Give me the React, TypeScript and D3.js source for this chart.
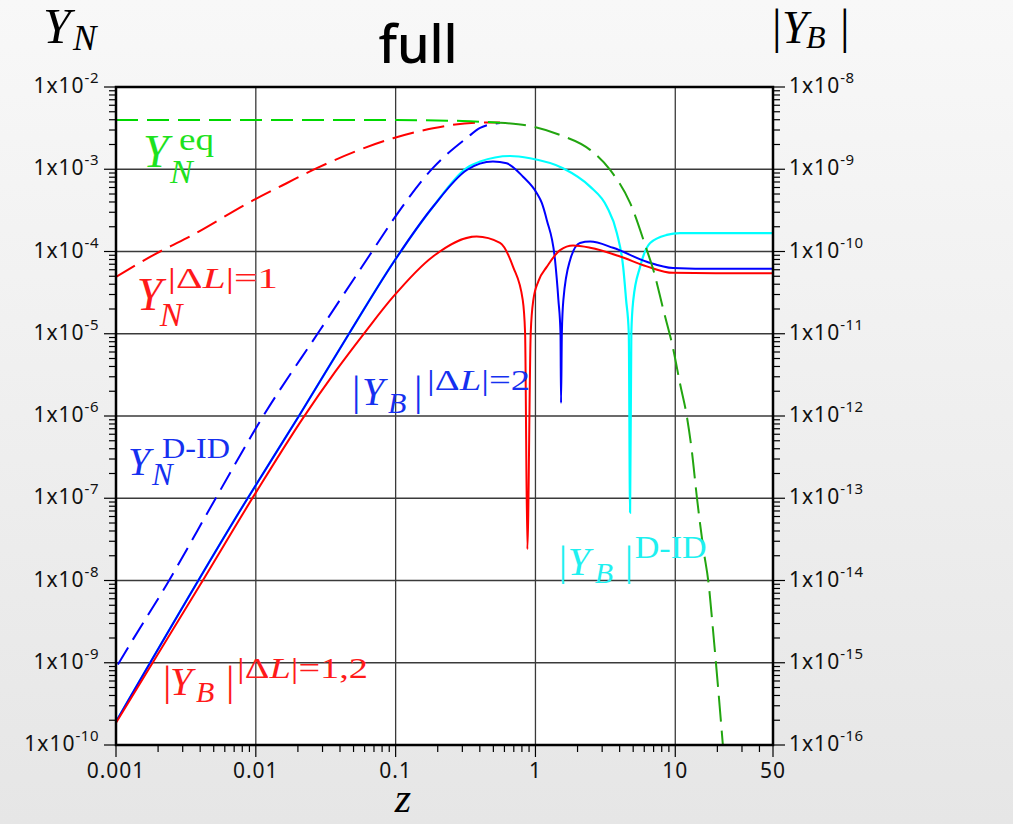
import React, { useRef, useEffect } from "react";
import * as d3 from "d3";

// values: [z, value]
// Y_N^eq (left axis)
const eqCurve: [number, number][] = [
  [0.001, 3.97e-3], [0.01, 3.97e-3], [0.1, 3.96e-3], [0.3, 3.86e-3], [0.558, 3.68e-3],
  [0.914, 3.36e-3], [1.5, 2.61e-3], [2.46, 1.72e-3], [3.42, 9.8e-4], [4.75, 3.9e-4],
  [6.25, 1.05e-4], [6.97, 5.97e-5], [8.22, 1.95e-5], [9.69, 6.4e-6], [10.8, 2.5e-6],
  [12.1, 9.9e-7], [13.1, 3.9e-7], [14.3, 1.0e-7], [15.9, 2.4e-8], [17.3, 9.3e-9],
  [18.7, 2.3e-9], [20.3, 4.7e-10], [21.9, 1.0e-10]
];

// Y_N^{|dL|=1} (left axis)
const ynDL1: [number, number][] = [
  [0.001, 4.9e-5], [0.00195, 9.5e-5], [0.0032, 1.45e-4], [0.0096, 4.2e-4], [0.0166, 6.76e-4],
  [0.0273, 1.03e-3], [0.0958, 2.38e-3], [0.185, 3.15e-3], [0.38, 3.68e-3], [0.558, 3.7e-3]
];

// Y_N^{D-ID} (left axis)
const ynDID: [number, number][] = [
  [0.00103, 9.5e-10], [0.00132, 1.91e-9], [0.0023, 8.9e-9], [0.00525, 1.05e-7], [0.01126, 9.9e-7],
  [0.0288, 1.11e-5], [0.0689, 1.04e-4], [0.0958, 2.42e-4], [0.185, 1.04e-3], [0.323, 2.4e-3],
  [0.402, 3.18e-3], [0.558, 3.65e-3]
];

// |Y_B|^{|dL|=1,2} (right axis)
const ybDL12: [number, number][] = [
  [0.001, 1.86e-16], [0.00399, 8.8e-15], [0.01, 1.17e-13], [0.0218, 9.5e-13], [0.0369, 3.44e-12],
  [0.0621, 1.11e-11], [0.0958, 2.8e-11], [0.185, 8.7e-11], [0.38, 1.52e-10], [0.558, 1.27e-10],
  [0.692, 6.5e-11], [0.811, 2.58e-11], [0.843, 1.03e-11], [0.875, 2.4e-14], [0.925, 1.03e-11],
  [0.966, 2.58e-11], [1.052, 4.4e-11], [1.205, 6.5e-11], [1.5, 1.04e-10], [1.86, 1.18e-10],
  [2.46, 1.11e-10], [4.03, 8.7e-11], [6.25, 6.6e-11], [9.64, 5.5e-11], [20, 5.45e-11], [50, 5.45e-11]
];

// |Y_B|^{|dL|=2} (right axis)
const ybDL2: [number, number][] = [
  [0.001, 1.92e-16], [0.00861, 9.6e-14], [0.0207, 1.05e-12], [0.0472, 1.05e-11], [0.0958, 7.26e-11],
  [0.185, 3.5e-10], [0.323, 9.8e-10], [0.497, 1.24e-9], [0.623, 1.18e-9], [0.815, 8.1e-10],
  [1.02, 5.15e-10], [1.11, 3.9e-10], [1.205, 2.42e-10], [1.38, 7.9e-11], [1.459, 2.58e-11],
  [1.51, 1.03e-11], [1.524, 1.44e-12], [1.545, 1.03e-11], [1.584, 2.58e-11], [1.77, 7.9e-11],
  [2.08, 1.27e-10], [2.46, 1.32e-10], [3.59, 1.11e-10], [6.25, 7.5e-11], [9.64, 6.3e-11],
  [20, 6.15e-11], [50, 6.15e-11]
];

// |Y_B|^{D-ID} (right axis)
const ybDID: [number, number][] = [
  [0.001, 1.92e-16], [0.00861, 9.6e-14], [0.0207, 1.05e-12], [0.0472, 1.05e-11], [0.0958, 7.26e-11],
  [0.185, 3.5e-10], [0.323, 1.04e-9], [0.402, 1.24e-9], [0.658, 1.45e-9], [0.914, 1.36e-9],
  [1.575, 1.03e-9], [2.46, 6.15e-10], [3.24, 3.5e-10], [3.82, 1.68e-10], [4.24, 6.5e-11],
  [4.45, 2.58e-11], [4.65, 1.03e-11], [4.75, 6.7e-14], [4.85, 1.03e-11], [5.01, 2.58e-11],
  [5.6, 6.5e-11], [6.61, 1.27e-10], [8.69, 1.59e-10], [10.8, 1.67e-10], [50, 1.67e-10]
];

const leftExps = [-2, -3, -4, -5, -6, -7, -8, -9, -10];
const rightExps = [-8, -9, -10, -11, -12, -13, -14, -15, -16];
const xTicks = [0.001, 0.01, 0.1, 1, 10, 50];
const xTickLabels = ["0.001", "0.01", "0.1", "1", "10", "50"];

const W = 1013, H = 824;
const SERIF = "'Liberation Serif', 'Times New Roman', serif";
const SANS = "'Noto Sans', 'Open Sans', sans-serif";

type Seg = { s: string; i?: boolean };
type Piece = { segs: Seg[]; dx: number; dy: number; size: number; w?: number };

const it = (s: string, dx: number, dy: number, size: number): Piece => ({ segs: [{ s, i: true }], dx, dy, size });
const up = (s: string, dx: number, dy: number, size: number, w?: number): Piece => ({ segs: [{ s }], dx, dy, size, w });
const dl = (n: string, dx: number, dy: number, size: number, w: number): Piece =>
  ({ segs: [{ s: "|Δ" }, { s: "L", i: true }, { s: "|=" + n }], dx, dy, size, w });

const mathLabel = (g: any, x0: number, y0: number, color: string, pieces: Piece[]) => {
  pieces.forEach(p => {
    const t = g.append("text")
      .attr("x", x0 + p.dx)
      .attr("y", y0 + p.dy)
      .attr("font-size", p.size)
      .attr("font-family", SERIF)
      .attr("fill", color);
    if (p.w) t.attr("textLength", p.w).attr("lengthAdjust", "spacingAndGlyphs");
    p.segs.forEach(sg => {
      t.append("tspan").attr("font-style", sg.i ? "italic" : "normal").text(sg.s);
    });
  });
};

const App = () => {
  const chart = useRef<SVGSVGElement>(null);

  useEffect(() => {
    const margin = { top: 87, right: 240, bottom: 79, left: 116 };
    const left = margin.left, right = W - margin.right, top = margin.top, bottom = H - margin.bottom;

    const svg = d3.select(chart.current);
    svg.selectAll("*").remove();

    const defs = svg.append("defs");
    const grad = defs.append("linearGradient").attr("id", "bg")
      .attr("x1", 0).attr("y1", 0).attr("x2", 0).attr("y2", 1);
    grad.append("stop").attr("offset", "0%").attr("stop-color", "#f8f8f8");
    grad.append("stop").attr("offset", "100%").attr("stop-color", "#e6e6e6");
    defs.append("clipPath").attr("id", "plotClip").append("rect")
      .attr("x", left).attr("y", top).attr("width", right - left).attr("height", bottom - top);

    svg.append("rect").attr("width", W).attr("height", H).attr("fill", "url(#bg)");
    svg.append("rect").attr("x", left).attr("y", top).attr("width", right - left).attr("height", bottom - top).attr("fill", "#fff");

    const x = d3.scaleLog().domain([0.001, 50]).range([left, right]);
    const yN = d3.scaleLog().domain([1e-10, 1e-2]).range([bottom, top]);
    const yB = d3.scaleLog().domain([1e-16, 1e-8]).range([bottom, top]);

    // grid
    const grid = svg.append("g").attr("stroke", "#3a3a3a").attr("stroke-width", 1.3);
    [0.01, 0.1, 1, 10].forEach(v => {
      grid.append("line").attr("x1", x(v)).attr("x2", x(v)).attr("y1", top).attr("y2", bottom);
    });
    leftExps.slice(1, -1).forEach(e => {
      grid.append("line").attr("x1", left).attr("x2", right).attr("y1", yN(10 ** e)).attr("y2", yN(10 ** e));
    });

    // ticks
    const ticks = svg.append("g").attr("stroke", "#000").attr("stroke-width", 1.2);
    leftExps.forEach(e => {
      const yy = yN(10 ** e);
      ticks.append("line").attr("x1", left - 12).attr("x2", left).attr("y1", yy).attr("y2", yy);
      ticks.append("line").attr("x1", right).attr("x2", right + 12).attr("y1", yy).attr("y2", yy);
      if (e > -10) {
        for (let k = 2; k <= 9; k++) {
          const ym = yN(k * 10 ** (e - 1));
          ticks.append("line").attr("x1", left - 7).attr("x2", left).attr("y1", ym).attr("y2", ym);
          ticks.append("line").attr("x1", right).attr("x2", right + 7).attr("y1", ym).attr("y2", ym);
        }
      }
    });
    [0.001, 0.01, 0.1, 1, 10].forEach(d => {
      for (let k = 2; k <= 9; k++) {
        const v = k * d;
        if (v >= 50) break;
        ticks.append("line").attr("x1", x(v)).attr("x2", x(v)).attr("y1", bottom).attr("y2", bottom + 7);
      }
    });
    xTicks.forEach(v => {
      ticks.append("line").attr("x1", x(v)).attr("x2", x(v)).attr("y1", bottom).attr("y2", bottom + 12);
    });

    // tick labels
    const tl = svg.append("g").attr("font-family", SANS).attr("fill", "#111");
    const expLabel = (xx: number, yy: number, e: number, anchor: string) => {
      const t = tl.append("text").attr("x", xx).attr("y", yy + 6).attr("text-anchor", anchor)
        .attr("font-size", 21).attr("letter-spacing", 1);
      t.append("tspan").text("1x10");
      t.append("tspan").attr("font-size", 15).attr("dy", -10).attr("letter-spacing", 0.5).text(String(e));
    };
    leftExps.forEach(e => expLabel(left - 17, yN(10 ** e), e, "end"));
    rightExps.forEach(e => expLabel(right + 16, yB(10 ** e), e, "start"));
    xTicks.forEach((v, i) => {
      tl.append("text").attr("x", x(v)).attr("y", bottom + 33).attr("text-anchor", "middle")
        .attr("font-size", 21).attr("letter-spacing", 1).text(xTickLabels[i]);
    });

    // curves
    const plot = svg.append("g").attr("clip-path", "url(#plotClip)").attr("fill", "none").attr("stroke-width", 2);
    const lineN = d3.line<[number, number]>().x(d => x(d[0])).y(d => yN(d[1])).curve(d3.curveMonotoneX);
    const lineB = d3.line<[number, number]>().x(d => x(d[0])).y(d => yB(d[1])).curve(d3.curveMonotoneX);

    plot.append("path").attr("d", lineB(ybDID)).attr("stroke", "#00ffff").attr("stroke-width", 2.2);
    plot.append("path").attr("d", lineB(ybDL2)).attr("stroke", "#0000ff");
    plot.append("path").attr("d", lineB(ybDL12)).attr("stroke", "#ff0000");

    plot.append("path").attr("d", lineN(ynDID)).attr("stroke", "#0000ff").attr("stroke-dasharray", "20 9");
    plot.append("path").attr("d", lineN(ynDL1)).attr("stroke", "#ff0000").attr("stroke-dasharray", "22 9");
    plot.append("path").attr("d", lineN(eqCurve.filter(d => d[0] <= 0.56))).attr("stroke", "#00d800").attr("stroke-dasharray", "22 9");
    plot.append("path").attr("d", lineN(eqCurve.filter(d => d[0] >= 0.55))).attr("stroke", "#22a510").attr("stroke-dasharray", "26 9");

    // frame
    svg.append("rect").attr("x", left).attr("y", top).attr("width", right - left).attr("height", bottom - top)
      .attr("fill", "none").attr("stroke", "#000").attr("stroke-width", 2.5);

    // curve labels
    const lab = svg.append("g");
    mathLabel(lab, x(0.00156), yN(1.07e-3), "#1ee21e", [
      it("Y", 0, 0, 46), it("N", 27, 16, 34), up("eq", 36, -17, 31, 35)
    ]);
    mathLabel(lab, x(0.00141), yN(1.95e-5), "#ff1a1a", [
      it("Y", 0, 0, 46), it("N", 23, 16, 34), dl("1", 31, -22, 30, 110)
    ]);
    mathLabel(lab, x(0.0513), yN(1.37e-6), "#1530f0", [
      up("|", -3, 0, 42), it("Y", 7, 0, 40), it("B", 33, 8, 30), up("|", 59, 0, 42),
      dl("2", 72, -15, 29, 103)
    ]);
    mathLabel(lab, x(0.00122), yN(1.93e-7), "#1530f0", [
      it("Y", 0, 0, 40), it("N", 24, 10, 31), up("D-ID", 34, -17, 29, 68)
    ]);
    mathLabel(lab, x(1.54), yN(1.18e-8), "#1ff0f0", [
      up("|", -3, 0, 42), it("Y", 6, 0, 40), it("B", 33, 8, 30), up("|", 63, 0, 42),
      up("D-ID", 73, -17, 31, 72)
    ]);
    mathLabel(lab, x(0.00228), yN(4.09e-10), "#ff1a1a", [
      up("|", -3, 0, 42), it("Y", 4, 0, 40), it("B", 30, 7, 30), up("|", 60, 0, 42),
      dl("1,2", 71, -17, 30, 131)
    ]);

    // axis titles
    mathLabel(svg, 43, 43, "#000", [it("Y", 0, 0, 50), it("N", 30, 7, 35)]);
    mathLabel(svg, 775, 43, "#000", [
      up("|", -3, 0, 48), it("Y", 7, 0, 46), it("B", 31, 5, 32), up("|", 65, 0, 48)
    ]);
    svg.append("text").attr("x", 403).attr("y", 812).attr("text-anchor", "middle")
      .attr("font-family", SERIF).attr("font-style", "italic").attr("font-size", 42).attr("fill", "#000").text("z");
    svg.append("text").attr("x", 418).attr("y", 63).attr("text-anchor", "middle")
      .attr("font-family", SANS).attr("font-size", 52).attr("font-weight", 500).attr("fill", "#000").text("full");
  }, []);

  return (
    <svg ref={chart} width={W} height={H} style={{ position: "absolute", left: 0, top: 0 }} />
  );
};

export default App;
